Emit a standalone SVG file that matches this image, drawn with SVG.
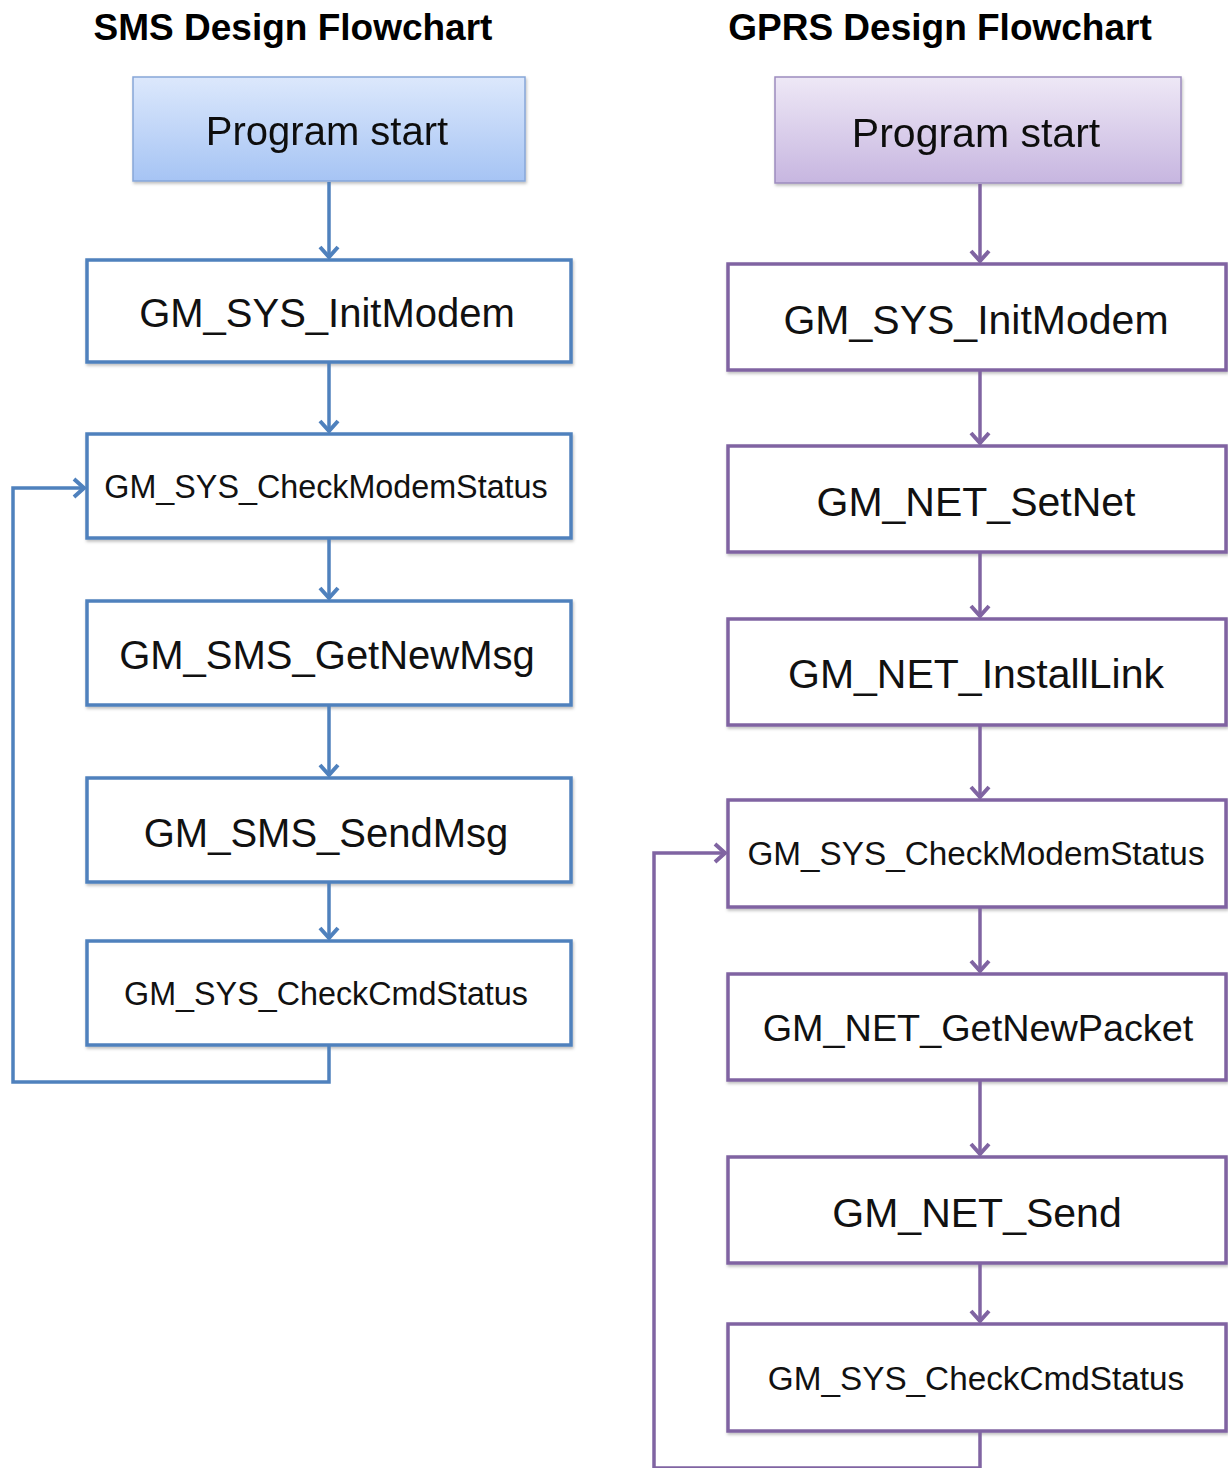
<svg xmlns="http://www.w3.org/2000/svg" width="1228" height="1468" viewBox="0 0 1228 1468">
<defs>
<linearGradient id="gBlue" x1="0" y1="0" x2="0" y2="1">
<stop offset="0" stop-color="#dce8fc"/>
<stop offset="1" stop-color="#a6c4f4"/>
</linearGradient>
<linearGradient id="gPurple" x1="0" y1="0" x2="0" y2="1">
<stop offset="0" stop-color="#eee8f6"/>
<stop offset="1" stop-color="#c7b6e0"/>
</linearGradient>
<filter id="sh" x="-5%" y="-5%" width="110%" height="120%">
<feDropShadow dx="1" dy="2" stdDeviation="1.5" flood-color="#000" flood-opacity="0.25"/>
</filter>
<marker id="aB" markerUnits="userSpaceOnUse" markerWidth="24" markerHeight="24" refX="14" refY="12" orient="auto">
<path d="M3,3 L13,12 L3,21" fill="none" stroke="#4f81bd" stroke-width="4"/>
</marker>
<marker id="aP" markerUnits="userSpaceOnUse" markerWidth="24" markerHeight="24" refX="14" refY="12" orient="auto">
<path d="M3,3 L13,12 L3,21" fill="none" stroke="#8064a2" stroke-width="4"/>
</marker>
</defs>
<style>
.title{font-family:"Liberation Sans",Arial,sans-serif;font-weight:bold;font-size:37px;fill:#000;text-anchor:middle}
.t{font-family:"Liberation Sans",Arial,sans-serif;fill:#111;text-anchor:middle}
.bb{fill:#fff;stroke:#4f81bd;stroke-width:3.5}
.pb{fill:#fff;stroke:#8064a2;stroke-width:3.5}
.cb{fill:none;stroke:#4f81bd;stroke-width:3.5}
.cp{fill:none;stroke:#8064a2;stroke-width:3.5}
</style>
<text class="title" x="293" y="40">SMS Design Flowchart</text>
<text class="title" x="940" y="40">GPRS Design Flowchart</text>

<g id="s_start" filter="url(#sh)"><rect x="133" y="77" width="392" height="104" fill="url(#gBlue)" stroke="#86a6d8" stroke-width="1.5"/><text class="t" x="327" y="145" font-size="40">Program start</text></g>
<g id="s_init"><rect class="bb" x="87" y="260" width="484" height="102" filter="url(#sh)"/><text class="t" x="327" y="327" font-size="40">GM_SYS_InitModem</text></g>
<g id="s_check"><rect class="bb" x="87" y="434" width="484" height="104" filter="url(#sh)"/><text class="t" x="326" y="498" font-size="32.3">GM_SYS_CheckModemStatus</text></g>
<g id="s_get"><rect class="bb" x="87" y="601" width="484" height="104" filter="url(#sh)"/><text class="t" x="327" y="669" font-size="40">GM_SMS_GetNewMsg</text></g>
<g id="s_send"><rect class="bb" x="87" y="778" width="484" height="104" filter="url(#sh)"/><text class="t" x="326" y="847" font-size="40">GM_SMS_SendMsg</text></g>
<g id="s_cmd"><rect class="bb" x="87" y="941" width="484" height="104" filter="url(#sh)"/><text class="t" x="326" y="1005" font-size="32.3">GM_SYS_CheckCmdStatus</text></g>

<g id="g_start" filter="url(#sh)"><rect x="775" y="77" width="406" height="106" fill="url(#gPurple)" stroke="#9d8cbe" stroke-width="1.5"/><text class="t" x="976" y="147" font-size="41">Program start</text></g>
<g id="g_init"><rect class="pb" x="728" y="264" width="498" height="106" filter="url(#sh)"/><text class="t" x="976" y="334" font-size="41">GM_SYS_InitModem</text></g>
<g id="g_setnet"><rect class="pb" x="728" y="446" width="498" height="106" filter="url(#sh)"/><text class="t" x="976" y="516" font-size="41">GM_NET_SetNet</text></g>
<g id="g_link"><rect class="pb" x="728" y="619" width="498" height="106" filter="url(#sh)"/><text class="t" x="976" y="688" font-size="41">GM_NET_InstallLink</text></g>
<g id="g_check"><rect class="pb" x="728" y="800" width="498" height="107" filter="url(#sh)"/><text class="t" x="976" y="865" font-size="33.3">GM_SYS_CheckModemStatus</text></g>
<g id="g_get"><rect class="pb" x="728" y="974" width="498" height="106" filter="url(#sh)"/><text class="t" x="978" y="1041" font-size="37.8">GM_NET_GetNewPacket</text></g>
<g id="g_send"><rect class="pb" x="728" y="1157" width="498" height="106" filter="url(#sh)"/><text class="t" x="977" y="1227" font-size="41">GM_NET_Send</text></g>
<g id="g_cmd"><rect class="pb" x="728" y="1324" width="498" height="107" filter="url(#sh)"/><text class="t" x="976" y="1390" font-size="33.3">GM_SYS_CheckCmdStatus</text></g>

<g id="connectors">
<line class="cb" x1="329" y1="182" x2="329" y2="258" marker-end="url(#aB)"/>
<line class="cb" x1="329" y1="363" x2="329" y2="432" marker-end="url(#aB)"/>
<line class="cb" x1="329" y1="539" x2="329" y2="599" marker-end="url(#aB)"/>
<line class="cb" x1="329" y1="706" x2="329" y2="776" marker-end="url(#aB)"/>
<line class="cb" x1="329" y1="883" x2="329" y2="939" marker-end="url(#aB)"/>
<path class="cb" d="M329,1046 L329,1082 L13,1082 L13,488 L85,488" marker-end="url(#aB)"/>

<line class="cp" x1="980" y1="184" x2="980" y2="262" marker-end="url(#aP)"/>
<line class="cp" x1="980" y1="371" x2="980" y2="444" marker-end="url(#aP)"/>
<line class="cp" x1="980" y1="553" x2="980" y2="617" marker-end="url(#aP)"/>
<line class="cp" x1="980" y1="726" x2="980" y2="798" marker-end="url(#aP)"/>
<line class="cp" x1="980" y1="908" x2="980" y2="972" marker-end="url(#aP)"/>
<line class="cp" x1="980" y1="1081" x2="980" y2="1155" marker-end="url(#aP)"/>
<line class="cp" x1="980" y1="1264" x2="980" y2="1322" marker-end="url(#aP)"/>
<path class="cp" d="M980,1432 L980,1468 L654,1468 L654,853 L726,853" marker-end="url(#aP)"/>
</g>
</svg>
